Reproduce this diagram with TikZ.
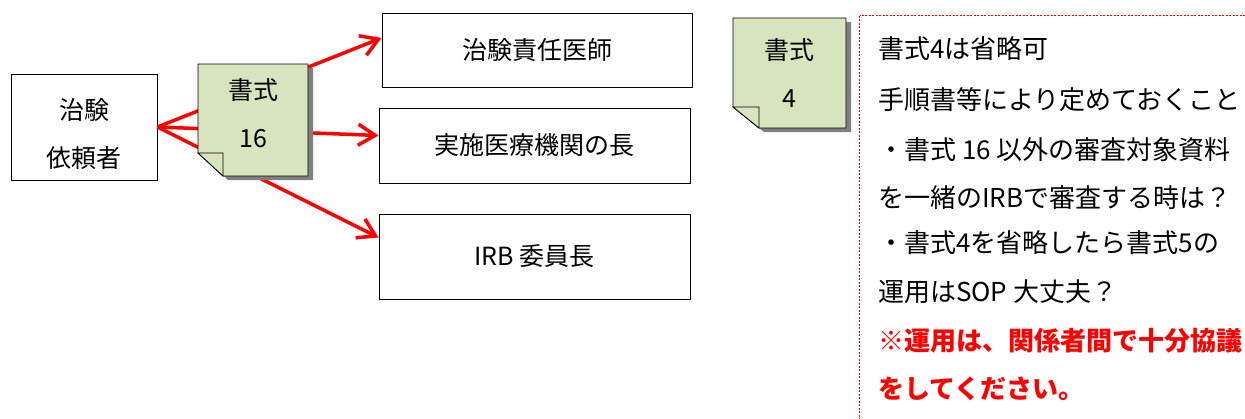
\documentclass[tikz,border=0pt]{standalone}
\usepackage{fontspec}
\setmainfont{Noto Sans CJK JP}
\usetikzlibrary{arrows.meta}

\definecolor{notegreen}{HTML}{D7E4BD}
\definecolor{shadowgray}{HTML}{808080}
\definecolor{memored}{HTML}{FF0000}

\tikzstyle{box} = [draw=black, line width=1pt, inner sep=0pt, align=center, font=\fontsize{25}{48}\selectfont]
\tikzstyle{notetext} = [inner sep=0pt, align=center, font=\fontsize{25}{48}\selectfont]
\tikzstyle{arr} = [draw=red, line width=3.5pt, -{Straight Barb[length=17pt,width=21pt]}]
\tikzstyle{memo} = [anchor=west, inner sep=0pt, font=\fontsize{26}{30}\selectfont, text height=22.9pt, text depth=3pt]
\tikzstyle{paper} = [fill=notegreen, draw=black, line width=.8pt]
\tikzstyle{memoframe} = [draw=memored, line width=1.4pt, dash pattern=on 2pt off 1.5pt]

\begin{document}
\begin{tikzpicture}[x=1pt,y=-1pt]
      \useasboundingbox (0,0) rectangle (1245,418);
      \node[box, minimum width=146pt, minimum height=106pt, text height=84pt, text depth=3pt] (req) at (84,127) {治験\\依頼者};
      \node[box, minimum width=310pt, minimum height=74pt] (pi) at (537,50) {治験責任医師};
      \node[box, minimum width=311pt, minimum height=75pt] (head) at (534.5,145.5) {実施医療機関の長};
      \node[box, minimum width=311pt, minimum height=85pt] (irb) at (534.5,256.5) {IRB 委員長};
      \draw[arr] (req.east) -- ([yshift=12pt]pi.west);
      \draw[arr] (req.east) -- ([yshift=10pt]head.west);
      \draw[arr] (req.east) -- ([yshift=19pt]irb.west);
      % note 16
      \fill[shadowgray] (203,68) -- (313,68) -- (313,180) -- (228,180) -- (203,157) -- cycle;
      \draw[paper] (198,64) -- (308,64) -- (308,176) -- (223,176) -- (198,153) -- cycle;
      \draw[paper] (198,153) -- (223,153) -- (223,176) -- cycle;
      \node[notetext] (n16) at (253,113.5) {書式\\16};
      % note 4
      \fill[shadowgray] (738,22) -- (851,22) -- (851,132) -- (764,132) -- (738,111) -- cycle;
      \draw[paper] (733,18) -- (846,18) -- (846,128) -- (759,128) -- (733,107) -- cycle;
      \draw[paper] (733,107) -- (759,107) -- (759,128) -- cycle;
      \node[notetext] (n4) at (789.5,73) {書式\\4};
      % memo
      \draw[memoframe] (859.5,15.5) rectangle (1270,440);
      \node[memo] (m1) at (878,49) {書式4は省略可};
      \node[memo] (m2) at (878,100) {手順書等により定めておくこと};
      \node[memo] (m3) at (878,150) {・書式 16 以外の審査対象資料};
      \node[memo] (m4) at (878,198) {を一緒のIRBで審査する時は？};
      \node[memo] (m5) at (878,243) {・書式4を省略したら書式5の};
      \node[memo] (m6) at (878,292) {運用はSOP 大丈夫？};
      \node[memo, memored, font=\fontsize{26}{30}\selectfont\bfseries] (m7) at (878,341) {※運用は、関係者間で十分協議};
      \node[memo, memored, font=\fontsize{26}{30}\selectfont\bfseries] (m8) at (878,389) {をしてください。};
    \end{tikzpicture}
\end{document}
